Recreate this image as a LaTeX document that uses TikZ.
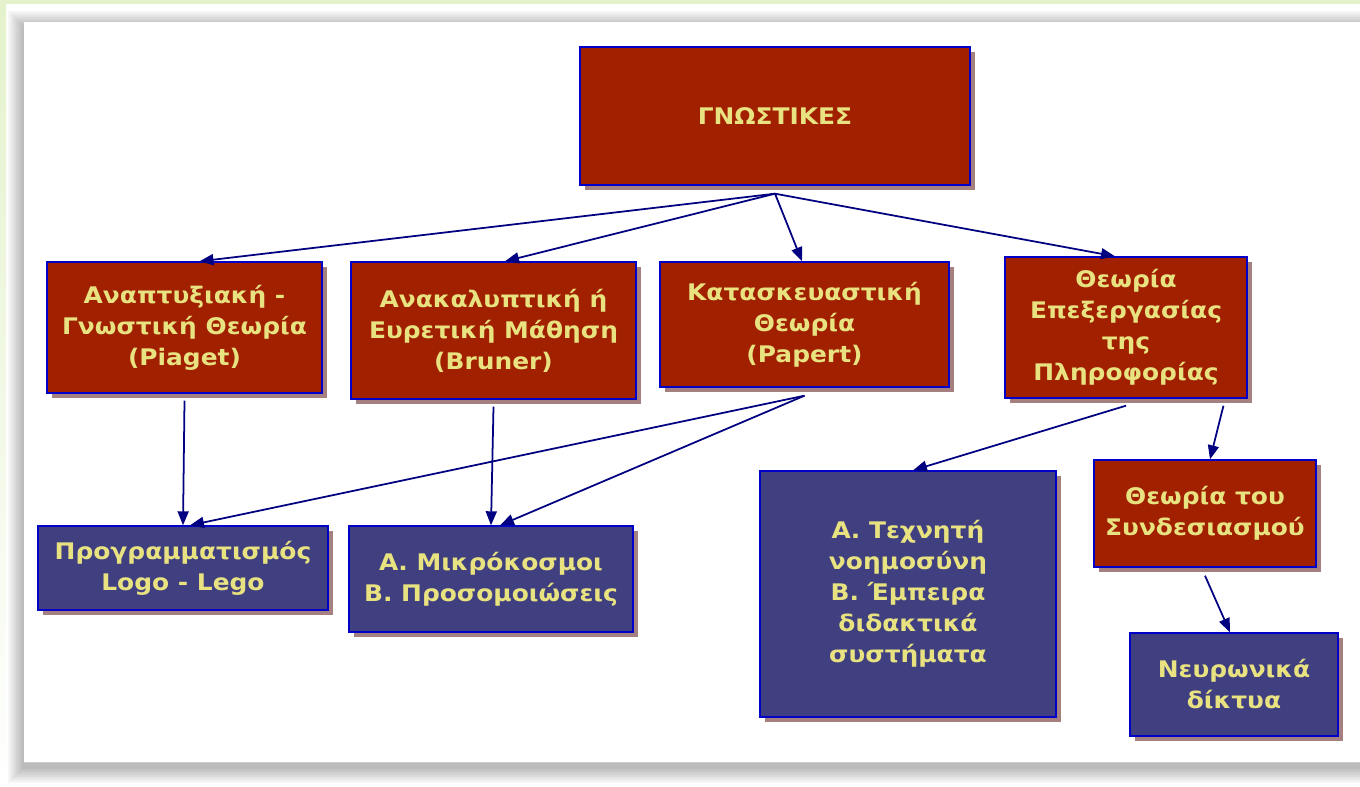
\documentclass[tikz,border=0pt]{standalone}
\usepackage{fontspec}
\setmainfont{DejaVu Sans}[FakeStretch = 1.09]
\usepackage{xcolor}
\usepackage{tikz}
\usetikzlibrary{arrows.meta,shadows}
\definecolor{boxred}{RGB}{160, 32, 0}
\definecolor{boxblue}{RGB}{64, 64, 128}
\definecolor{rimblue}{RGB}{0, 0, 200}
\definecolor{txtyellow}{RGB}{232, 226, 128}
\definecolor{shadowc}{RGB}{164, 128, 128}
\definecolor{linkblue}{RGB}{0, 0, 128}
\definecolor{pagegreen}{RGB}{228, 242, 204}

\begin{document}
\begin{tikzpicture}[x = 0.02cm, y = -0.02cm,
			box/.style = {draw = rimblue, line width = 0.8pt, text = txtyellow, align = center, inner sep = 0pt,
				font = \fontsize{13}{17.6}\selectfont\bfseries,
				drop shadow = {shadow xshift = 0.1cm, shadow yshift = -0.1cm, fill = shadowc, opacity = 1}},
			redbox/.style = {box, fill = boxred},
			bluebox/.style = {box, fill = boxblue},
			link/.style = {draw = linkblue, line width = 1pt, -{Triangle[length = 0.28cm, width = 0.22cm]}}]
			\useasboundingbox (0,0) rectangle (1360,787);
			% page and panel
			\fill[white] (0,0) rectangle (1360,787);
			\fill[pagegreen] (0,0) rectangle (1360,4);
			\shade[top color = pagegreen, bottom color = white] (0,4) rectangle (6,787);
			\foreach \k in {1,...,8}
				\fill[black, opacity = 0.035] (24-2*\k,27-2*\k) rectangle (1370,767+2*\k);
			\fill[white] (24,22) rectangle (1370,762);
			\draw[black!20] (24,762) -- (1360,762);
			% boxes
			\node (root) at (775,116) [redbox, minimum width = 7.8cm, minimum height = 2.76cm] {ΓΝΩΣΤΙΚΕΣ};
			\node (piaget) at (184.5,327.5) [redbox, minimum width = 5.5cm, minimum height = 2.62cm] {Αναπτυξιακή -\\Γνωστική Θεωρία\\(Piaget)};
			\node (bruner) at (493.5,330.5) [redbox, minimum width = 5.7cm, minimum height = 2.74cm] {Ανακαλυπτική ή\\Ευρετική Μάθηση\\(Bruner)};
			\node (papert) at (804.5,324.5) [redbox, minimum width = 5.78cm, minimum height = 2.5cm] {Κατασκευαστική\\Θεωρία\\(Papert)};
			\node (info) at (1126,327.5) [redbox, minimum width = 4.84cm, minimum height = 2.82cm] {Θεωρία\\Επεξεργασίας\\της\\Πληροφορίας};
			\node (logo) at (183,568) [bluebox, minimum width = 5.8cm, minimum height = 1.68cm] {Προγραμματισμός\\Logo - Lego};
			\node (micro) at (491,579) [bluebox, minimum width = 5.68cm, minimum height = 2.12cm] {Α. Μικρόκοσμοι\\Β. Προσομοιώσεις};
			\node (ai) at (908,594) [bluebox, minimum width = 5.92cm, minimum height = 4.92cm] {Α. Τεχνητή\\νοημοσύνη\\Β. Έμπειρα\\διδακτικά\\συστήματα};
			\node (conn) at (1205,513.5) [redbox, minimum width = 4.44cm, minimum height = 2.14cm] {Θεωρία του\\Συνδεσιασμού};
			\node (neural) at (1234,684.5) [bluebox, minimum width = 4.16cm, minimum height = 2.06cm] {Νευρωνικά\\δίκτυα};
			% links
			\draw[link] ([yshift = -0.16cm]root.south) -- ([xshift = 0.3cm]piaget.north);
			\draw[link] ([yshift = -0.16cm]root.south) -- ([xshift = 0.23cm]bruner.north);
			\draw[link] ([yshift = -0.16cm]root.south) -- ([xshift = -0.05cm]papert.north);
			\draw[link] ([yshift = -0.16cm]root.south) -- ([xshift = -0.22cm]info.north);
			\draw[link] ([yshift = -0.14cm]piaget.south) -- (logo.north);
			\draw[link] ([yshift = -0.14cm]bruner.south) -- (micro.north);
			\draw[link] ([yshift = -0.16cm]papert.south) -- ([xshift = 0.14cm]logo.north);
			\draw[link] ([yshift = -0.16cm]papert.south) -- ([xshift = 0.18cm]micro.north);
			\draw[link] ([yshift = -0.14cm]info.south) -- ([xshift = 0.1cm]ai.north);
			\draw[link] ([xshift = 1.95cm, yshift = -0.14cm]info.south) -- ([xshift = 0.1cm]conn.north);
			\draw[link] ([yshift = -0.16cm]conn.south) -- ([xshift = -0.08cm]neural.north);
\end{tikzpicture}
\end{document}
